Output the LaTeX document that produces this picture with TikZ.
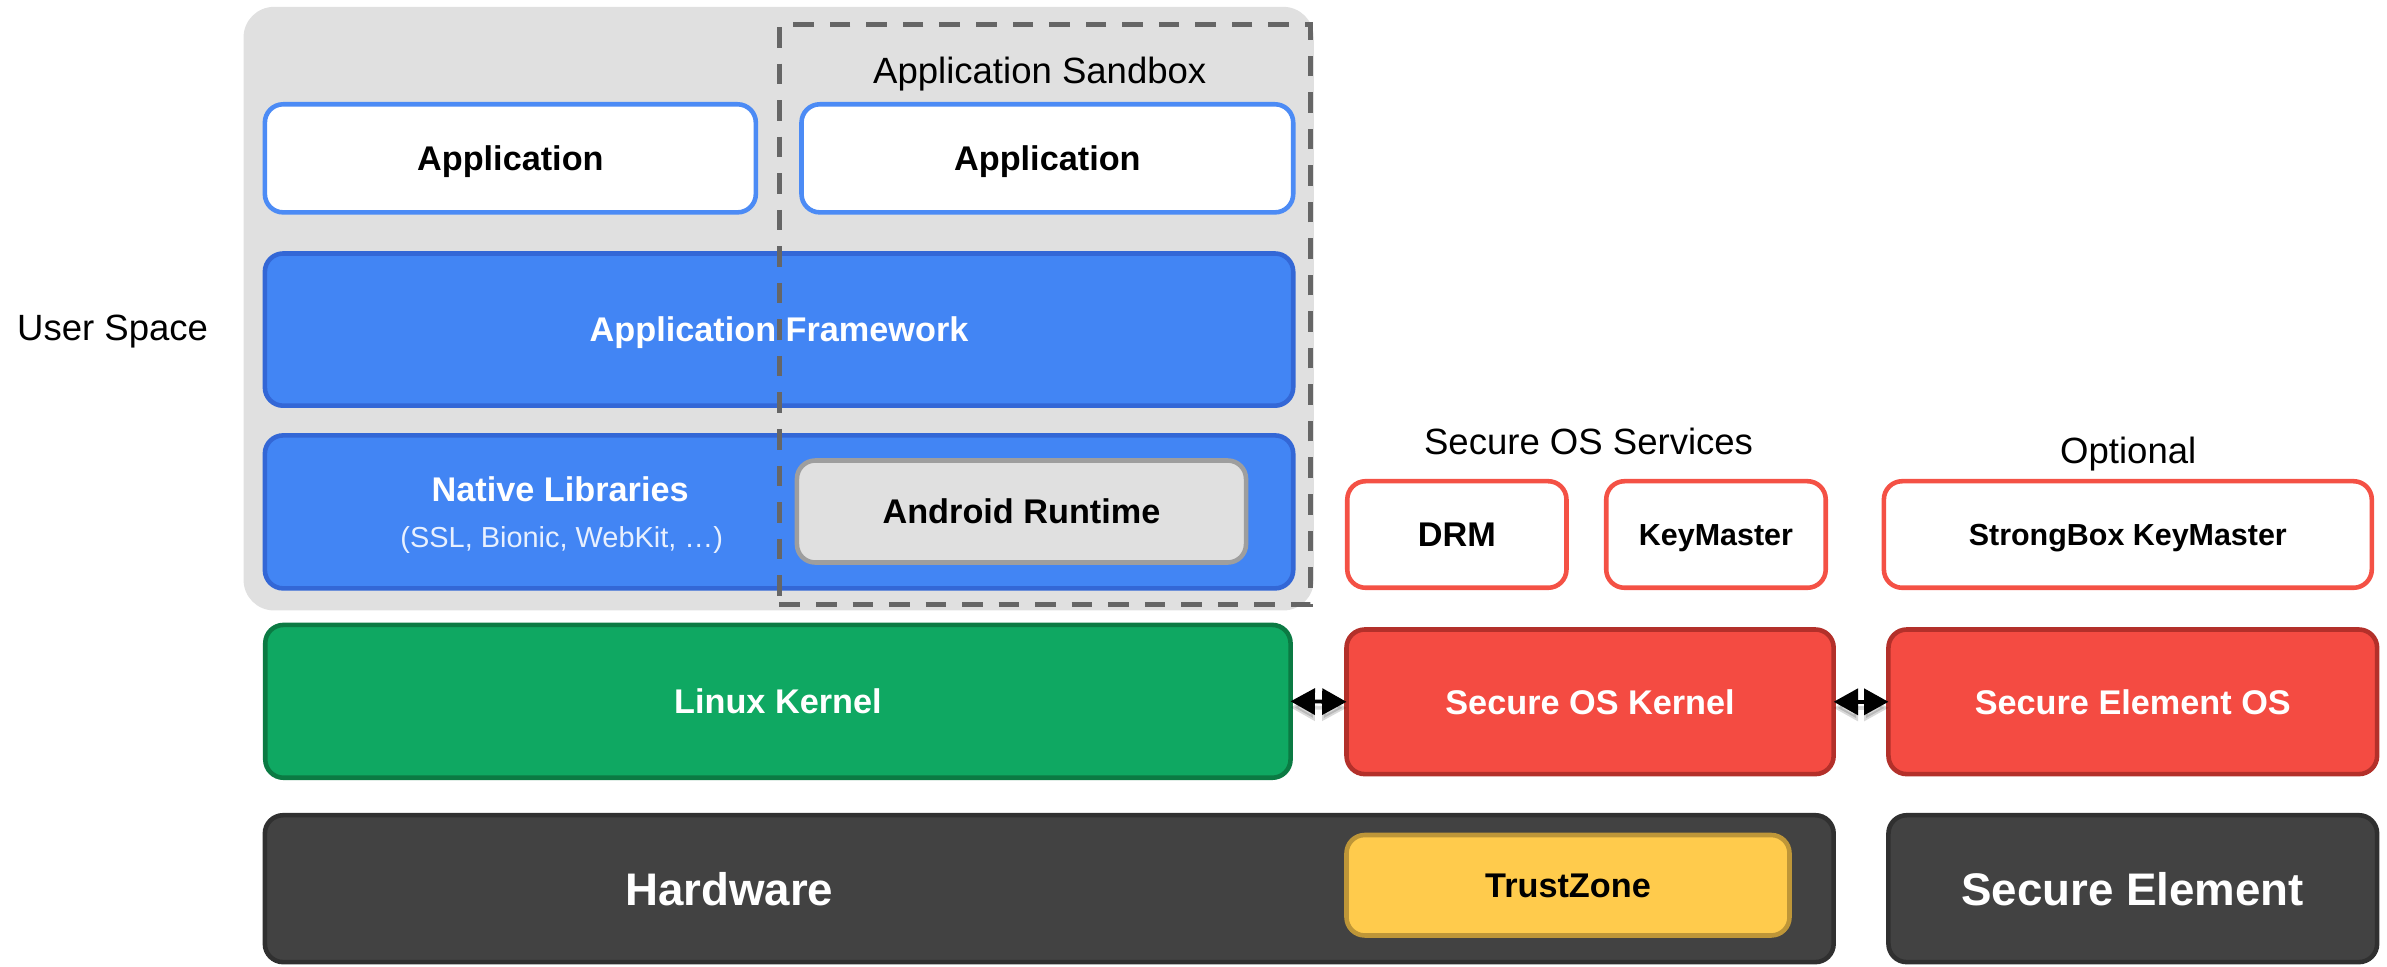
\documentclass[tikz,border=0pt]{standalone}
\usepackage{fontspec}
\setmainfont{Liberation Sans}
\usetikzlibrary{arrows.meta}
\definecolor{bgGray}{HTML}{E0E0E0}
\definecolor{dashGray}{HTML}{666666}
\definecolor{appBlue}{HTML}{4C8BF5}
\definecolor{fwBlue}{HTML}{4285F4}
\definecolor{fwBlueDark}{HTML}{3367D6}
\definecolor{artGray}{HTML}{E0E0E0}
\definecolor{artBorder}{HTML}{9E9E9E}
\definecolor{kGreen}{HTML}{0FA862}
\definecolor{kGreenDark}{HTML}{0B7A43}
\definecolor{sRed}{HTML}{F44B42}
\definecolor{sRedDark}{HTML}{B3302A}
\definecolor{svcRed}{HTML}{F45145}
\definecolor{hwGray}{HTML}{424242}
\definecolor{hwDark}{HTML}{303030}
\definecolor{tzYellow}{HTML}{FFCB4C}
\definecolor{tzBorder}{HTML}{BE9638}
\definecolor{subWhite}{HTML}{E8F0FE}
\tikzset{
  boxbase/.style={rectangle, rounded corners=12pt, line width=3pt, inner sep=0pt},
  lbl/.style={font=\fontsize{24}{28}\selectfont, text height=17.2pt, text depth=0pt, inner sep=0pt},
  bxfont/.style={font=\fontsize{22.5}{27}\selectfont\bfseries, text height=16.1pt, text depth=0pt},
  smfont/.style={font=\fontsize{20}{24}\selectfont\bfseries, text height=14.3pt, text depth=0pt},
  bigfont/.style={font=\fontsize{30}{36}\selectfont\bfseries, text height=21.5pt, text depth=0pt},
  subfont/.style={font=\fontsize{19}{23}\selectfont, text height=13.6pt, text depth=0pt, inner sep=0pt},
  appbox/.style={boxbase, draw=appBlue, fill=white, bxfont},
  fwbox/.style={boxbase, draw=fwBlueDark, fill=fwBlue, text=white, bxfont},
  artbox/.style={boxbase, draw=artBorder, fill=artGray, bxfont},
  kbox/.style={boxbase, draw=kGreenDark, fill=kGreen, text=white, bxfont},
  sbox/.style={boxbase, draw=sRedDark, fill=sRed, text=white, bxfont},
  svcbox/.style={boxbase, draw=svcRed, fill=white},
  hwbox/.style={boxbase, draw=hwDark, fill=hwGray, text=white, bigfont},
  tzbox/.style={boxbase, draw=tzBorder, fill=tzYellow, bxfont},
  biarrow/.style={line width=2.5pt, {Triangle[length=16pt,width=17pt]}-{Triangle[length=16pt,width=17pt]}, shorten <=-1.5pt, shorten >=-1.5pt},
  arrowshadow/.style={biarrow, draw=black, fill=black, opacity=0.15, transform canvas={yshift=-4pt}}
}
\begin{document}
\begin{tikzpicture}[x=1pt,y=-1pt]
\useasboundingbox (0,0) rectangle (1568,634.56);

% user space background
\node[rectangle, rounded corners=20pt, fill=bgGray, minimum width=703pt, minimum height=396.5pt, inner sep=0pt] (bg) at (511.5,202.75) {};

\node[lbl] (userspace) at (74,215) {User Space};
\node[lbl] (sandboxlbl) at (683,46) {Application Sandbox};

\node[appbox, minimum width=322.5pt, minimum height=71pt] (app1) at (335.25,104) {Application};
\node[appbox, minimum width=323pt, minimum height=71pt] (app2) at (688,104) {Application};
\node[fwbox, minimum width=675.5pt, minimum height=100pt] (fw) at (511.75,216.5) {Application Framework};
\node[fwbox, minimum width=675.5pt, minimum height=100.5pt] (native) at (511.75,336.25) {};
\node[bxfont, text=white, inner sep=0pt] (nativetitle) at (368,321.6) {Native Libraries};
\node[subfont, text=subWhite] (nativesub) at (369,353) {(SSL, Bionic, WebKit, …)};
\node[artbox, minimum width=295pt, minimum height=67pt] (art) at (671,336) {Android Runtime};

\node[kbox, minimum width=673.5pt, minimum height=100.4pt] (linux) at (511,460.7) {Linux Kernel};
\node[sbox, minimum width=320pt, minimum height=95pt] (sosk) at (1044.5,461) {Secure OS Kernel};
\node[sbox, minimum width=321pt, minimum height=95pt] (seos) at (1401,461) {Secure Element OS};

\node[hwbox, minimum width=1030.5pt, minimum height=96.5pt] (hw) at (689.25,583.75) {};
\node[bigfont, text=white, inner sep=0pt] (hwlbl) at (479,584) {Hardware};
\node[tzbox, minimum width=291pt, minimum height=66pt] (tz) at (1030,581.5) {TrustZone};
\node[hwbox, minimum width=321pt, minimum height=96.5pt] (se) at (1401,583.75) {Secure Element};

\node[lbl] (soslbl) at (1043.5,290) {Secure OS Services};
\node[lbl] (optlbl) at (1398,296) {Optional};
\node[svcbox, bxfont, minimum width=144pt, minimum height=70pt] (drm) at (957,351.1) {DRM};
\node[svcbox, smfont, minimum width=144.2pt, minimum height=70pt] (km) at (1127.2,351.1) {KeyMaster};
\node[svcbox, smfont, minimum width=320.5pt, minimum height=70pt] (sb) at (1397.75,351.1) {StrongBox KeyMaster};

\draw[arrowshadow] (linux.east) -- (sosk.west);
\draw[arrowshadow] (sosk.east) -- (seos.west);
\draw[biarrow] (linux.east) -- (sosk.west);
\draw[biarrow] (sosk.east) -- (seos.west);

% application sandbox
\node[rectangle, draw=dashGray, line width=3.3pt, dash pattern=on 13.5pt off 10.5pt, minimum width=349pt, minimum height=380.6pt, inner sep=0pt] (sandbox) at (686.5,206.7) {};
\end{tikzpicture}
\end{document}
